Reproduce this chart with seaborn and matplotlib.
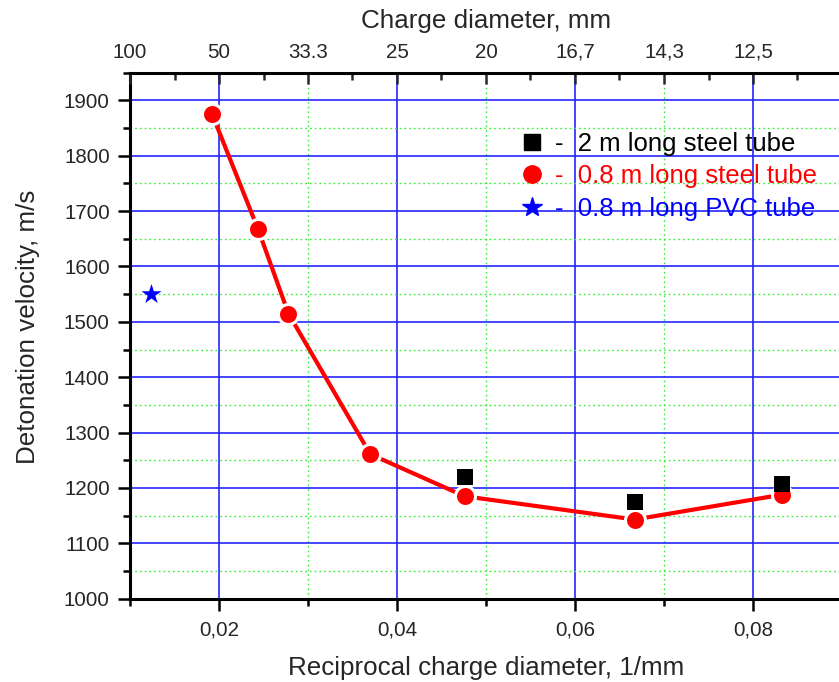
import matplotlib
matplotlib.use("Agg")
import matplotlib.pyplot as plt
import seaborn as sns
import pandas as pd
from matplotlib.lines import Line2D
from matplotlib.ticker import MultipleLocator, FixedLocator

# ---------------- data ----------------
recip_08_steel = [0.0192, 0.0244, 0.0278, 0.0370, 0.0476, 0.0667, 0.0833]
vel_08_steel = [1876, 1667, 1515, 1261, 1185, 1143, 1188]

recip_2_steel = [0.0476, 0.0667, 0.0833]
vel_2_steel = [1220, 1175, 1207]

recip_pvc = [0.0124]
vel_pvc = [1550]

bottom_ticks = [0.02, 0.04, 0.06, 0.08]
bottom_labels = ["0,02", "0,04", "0,06", "0,08"]
top_ticks = [0.01, 0.02, 0.03, 0.04, 0.05, 0.06, 0.07, 0.08]
top_labels = ["100", "50", "33.3", "25", "20", "16,7", "14,3", "12,5"]

legend_labels = ["-  2 m long steel tube", "-  0.8 m long steel tube", "-  0.8 m long PVC tube"]
legend_colors = ["black", "red", "blue"]

df_red = pd.DataFrame({"x": recip_08_steel, "y": vel_08_steel})
df_blk = pd.DataFrame({"x": recip_2_steel, "y": vel_2_steel})
df_pvc = pd.DataFrame({"x": recip_pvc, "y": vel_pvc})

# ---------------- style ----------------
sns.set_style("white")
plt.rcParams["font.family"] = ["Liberation Sans", "DejaVu Sans"]

W, H = 839, 682
fig = plt.figure(figsize=(W / 100, H / 100), dpi=100)
left, bottom_px, top_px, right_px = 130, 598.7, 72.7, 842
ax = fig.add_axes([left / W, (H - bottom_px) / H, (right_px - left) / W, (bottom_px - top_px) / H])

ax.set_xlim(0.01, 0.09)
ax.set_ylim(1000, 1950)

# grid
ax.set_axisbelow(True)
ax.xaxis.set_major_locator(FixedLocator(bottom_ticks))
ax.xaxis.set_minor_locator(MultipleLocator(0.01))
ax.yaxis.set_major_locator(MultipleLocator(100))
ax.yaxis.set_minor_locator(MultipleLocator(50))
ax.grid(which="major", color="#2020ff", lw=1.3, alpha=0.9)
ax.grid(which="minor", color="#33ee33", lw=1.0, ls=(0, (1.2, 2.2)))

# data
sns.lineplot(data=df_red, x="x", y="y", ax=ax, color="red", lw=3, marker="o",
             markersize=14.4, markeredgecolor="white", markeredgewidth=2.2,
             markerfacecolor="red", legend=False, zorder=4)
sns.scatterplot(data=df_blk, x="x", y="y", ax=ax, color="black", marker="s",
                s=130, linewidth=0, legend=False, zorder=5)
sns.scatterplot(data=df_pvc, x="x", y="y", ax=ax, color="blue", marker="*",
                s=230, linewidth=0, legend=False, zorder=5)

# axes appearance
ax.set_xticklabels(bottom_labels)
for s in ["left", "bottom"]:
    ax.spines[s].set_linewidth(2.2)
    ax.spines[s].set_color("black")
ax.spines["right"].set_visible(False)
ax.spines["top"].set_visible(False)
ax.tick_params(axis="both", which="major", direction="out", length=8.5, width=1.8,
               labelsize=14.8, color="black", pad=6, bottom=True, left=True)
ax.tick_params(axis="both", which="minor", direction="out", length=5, width=1.8,
               color="black", bottom=True, left=True)
ax.tick_params(axis="x", which="major", pad=7)

ax.set_xlabel("Reciprocal charge diameter, 1/mm", fontsize=18.7, labelpad=12)
ax.set_ylabel("Detonation velocity, m/s", fontsize=18.7)
ax.yaxis.set_label_coords((40 - left) / (right_px - left), (bottom_px - 327) / (bottom_px - top_px))

# top axis
ax2 = ax.twiny()
ax2.set_xlim(ax.get_xlim())
ax2.xaxis.set_major_locator(FixedLocator(top_ticks))
ax2.xaxis.set_minor_locator(MultipleLocator(0.005))
ax2.set_xticklabels(top_labels)
for s in ["left", "bottom", "right"]:
    ax2.spines[s].set_visible(False)
ax2.spines["top"].set_linewidth(2.2)
ax2.spines["top"].set_color("black")
ax2.tick_params(axis="x", which="major", direction="in", length=8, width=1.8,
                labelsize=14.8, pad=8, top=True)
ax2.tick_params(axis="x", which="minor", direction="in", length=5, width=1.8, top=True)
ax2.set_xlabel("Charge diameter, mm", fontsize=18.7, labelpad=10.5)
ax2.grid(False)

# legend
handles = [
    Line2D([], [], ls="none", marker="s", color="black", markersize=11),
    Line2D([], [], ls="none", marker="o", color="red", markersize=12.5),
    Line2D([], [], ls="none", marker="*", color="blue", markersize=15),
]
leg = ax2.legend(handles, legend_labels, loc="upper left",
                 bbox_to_anchor=((519 - left) / (right_px - left), (bottom_px - 132) / (bottom_px - top_px)),
                 frameon=False, fontsize=18.5, handlelength=1.0, handletextpad=0.4,
                 labelspacing=0.33, borderpad=0, borderaxespad=0)
for t, c in zip(leg.get_texts(), legend_colors):
    t.set_color(c)

fig.savefig("out.png", dpi=100)
